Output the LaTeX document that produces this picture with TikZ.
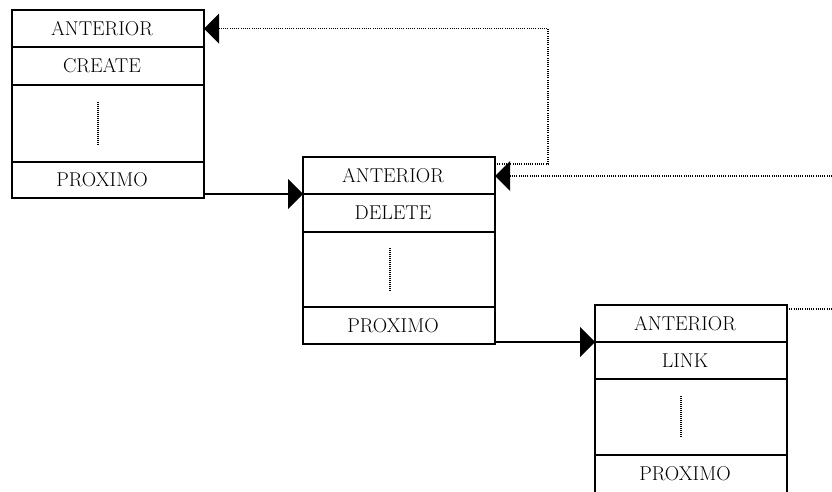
\documentclass[tikz,border=0pt]{standalone}
\usetikzlibrary{arrows.meta,calc}
\begin{document}
\begin{tikzpicture}[x=1pt,y=-1pt,
  cell/.style={draw, line width=1.3pt, minimum width=192pt, anchor=north west,
    inner sep=0pt, outer sep=0pt, font=\fontsize{20}{22}\selectfont, execute at begin node=\kern-12pt},
  link/.style={line width=1.3pt, -{Triangle[length=15pt,width=30pt]}},
  dots/.style={line width=1.1pt, dash pattern=on 1pt off 1.2pt},
  inner dots/.style={line width=1.1pt, dash pattern=on 1pt off 1pt}]
\clip (0,0) rectangle (832,491);
\useasboundingbox (0,0) rectangle (832,491);
% box 1
\node[cell, minimum height=37pt] (a1) at (12,10) {ANTERIOR};
\node[cell, minimum height=38pt] (c1) at (a1.south west) {CREATE};
\node[cell, minimum height=77pt] (b1) at (c1.south west) {};
\node[cell, minimum height=36pt] (p1) at (b1.south west) {PROXIMO};
% box 2
\node[cell, minimum height=37pt] (a2) at (303,157) {ANTERIOR};
\node[cell, minimum height=38pt] (c2) at (a2.south west) {DELETE};
\node[cell, minimum height=75pt] (b2) at (c2.south west) {};
\node[cell, minimum height=37pt] (p2) at (b2.south west) {PROXIMO};
% box 3
\node[cell, minimum height=37pt] (a3) at (595,305) {ANTERIOR};
\node[cell, minimum height=37pt] (c3) at (a3.south west) {LINK};
\node[cell, minimum height=76pt] (b3) at (c3.south west) {};
\node[cell, minimum height=40pt] (p3) at (b3.south west) {\raisebox{4pt}{PROXIMO}};
% inner dotted marks
\draw[inner dots] ($(b1.center)+(-10,-22)$) -- ($(b1.center)+(-10,22)$);
\draw[inner dots] ($(b2.center)+(-9,-22)$) -- ($(b2.center)+(-9,22)$);
\draw[inner dots] ($(b3.center)+(-10,-21)$) -- ($(b3.center)+(-10,21)$);
% solid links
\draw[link] (a2.south west -| p1.east) -- (a2.south west);
\draw[link] (a3.south west -| p2.east) -- (a3.south west);
% dotted back links
\coordinate (turn) at (548,28.5);
\coordinate (r2) at (832,176);
\coordinate (r3) at (832,309);
\draw[dots] ($(a2.north east)+(0,7)$) -| (turn) -- ($(a1.east)+(15,0)$);
\draw[line width=0pt, -{Triangle[length=15pt,width=30pt]}] ($(a1.east)+(15,0)$) -- (a1.east);
\draw[dots] (r2) -- ($(a2.east)+(15,0.5)$);
\draw[line width=0pt, -{Triangle[length=15pt,width=30pt]}] ($(a2.east)+(15,0.5)$) -- ($(a2.east)+(0,0.5)$);
\draw[dots] ($(a3.north east)+(0,4)$) -- (r3);
\end{tikzpicture}
\end{document}
